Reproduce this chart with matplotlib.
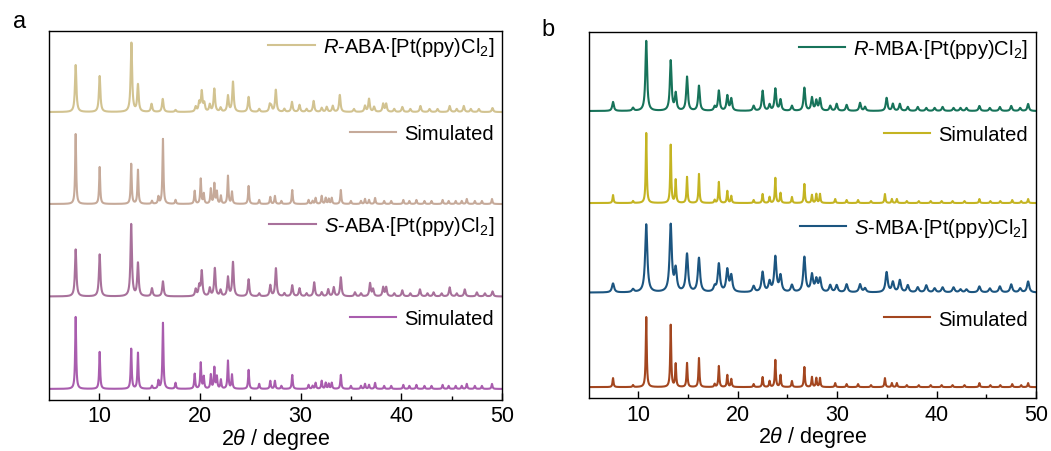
import numpy as np
import matplotlib
matplotlib.use("Agg")
import matplotlib.pyplot as plt
from matplotlib.legend import Legend

plt.rcParams["font.family"] = ["Liberation Sans", "DejaVu Sans"]
plt.rcParams["mathtext.fontset"] = "custom"
plt.rcParams["mathtext.rm"] = "Liberation Sans"
plt.rcParams["mathtext.it"] = "Liberation Sans:italic"

# ---- peak lists (2theta, relative intensity) ----
r_aba_pos = [7.69, 10.07, 13.22, 13.87, 15.22, 16.33, 17.6, 19.6, 19.95, 20.2, 20.45, 21.0, 21.45,
             22.07, 22.8, 23.3, 24.85, 25.9, 26.95, 27.1, 27.55, 28.4, 29.15, 29.9, 30.6, 31.3,
             32.1, 32.6, 33.2, 33.9, 35.3, 36.4, 36.8, 37.3, 38.2, 38.5, 39.3, 40.1, 40.9, 41.9,
             42.8, 43.6, 44.8, 45.5, 46.2, 46.9, 47.7, 49.05]
r_aba_int = [47, 36, 69, 27, 8, 13, 2, 5, 9, 20, 8, 7, 23,
             4, 16, 30, 15, 3, 7, 5, 22, 3, 10, 7, 3, 11,
             4, 5, 6, 17, 3, 6, 13, 5, 8, 8, 3, 5, 3, 6,
             3, 3, 6, 3, 6, 3, 3, 4]

sim_r_aba_pos = [7.69, 10.07, 13.2, 13.87, 15.26, 15.9, 16.35, 17.6, 19.5, 20.1, 20.4, 21.1, 21.45,
                 21.7, 22.1, 22.8, 23.2, 24.85, 25.9, 27.0, 27.46, 28.1, 29.18, 30.8, 31.2, 31.5,
                 32.1, 32.5, 32.8, 33.1, 34.0, 35.0, 36.0, 36.4, 36.8, 37.4, 38.3, 39.0, 40.2, 40.8,
                 41.5, 42.3, 43.0, 44.1, 44.7, 45.4, 46.0, 46.5, 47.3, 48.0, 49.0]
sim_r_aba_int = [70, 37, 40, 34, 3, 7, 65, 4, 13, 25, 10, 15, 20,
                 12, 8, 28, 12, 18, 4, 7, 8, 3, 14, 4, 3, 6,
                 8, 6, 5, 6, 14, 3, 3, 5, 4, 6, 3, 3, 4, 3,
                 4, 3, 3, 4, 3, 3, 3, 5, 3, 3, 5]

s_aba_pos = [7.69, 10.07, 13.2, 13.87, 15.26, 16.35, 19.6, 19.95, 20.2, 21.0, 21.5, 22.07, 22.8,
             23.3, 24.85, 25.9, 27.0, 27.56, 28.4, 29.18, 29.9, 30.6, 31.36, 32.1, 32.75, 33.3,
             34.0, 35.4, 36.0, 36.9, 37.2, 38.2, 38.5, 39.3, 40.1, 40.9, 41.85, 42.6, 43.2, 44.0,
             44.8, 45.5, 46.3, 47.5, 48.3, 49.05]
s_aba_int = [47, 42, 72, 33, 8, 15, 7, 10, 25, 8, 28, 6, 19,
             34, 17, 3, 11, 28, 3, 11, 8, 3, 14, 4, 7, 9,
             19, 4, 3, 13, 7, 9, 9, 3, 6, 3, 7, 3, 4, 3,
             9, 3, 7, 4, 3, 5]

sim_s_aba_pos = sim_r_aba_pos
sim_s_aba_int = [72, 37, 40, 36, 3, 8, 66, 6, 15, 26, 12, 14, 21,
                 12, 9, 28, 14, 19, 5, 8, 8, 3, 14, 4, 3, 6,
                 8, 6, 5, 6, 14, 3, 3, 5, 4, 6, 3, 3, 4, 3,
                 4, 3, 3, 4, 3, 3, 3, 5, 3, 3, 5]

r_mba_pos = [7.46, 9.47, 10.8, 13.26, 13.76, 14.9, 16.1, 17.68, 18.1, 18.95, 19.35, 21.6, 22.5,
             23.2, 23.78, 24.3, 25.45, 26.7, 27.46, 27.9, 28.27, 29.3, 29.95, 30.95, 32.3, 32.8,
             34.97, 35.6, 36.3, 37.1, 38.1, 38.96, 39.8, 40.6, 41.7, 42.4, 43.0, 44.3, 45.35,
             46.36, 47.5, 48.4, 49.2]
r_mba_int = [9, 3, 70, 50, 17, 34, 25, 4, 20, 15, 12, 5, 20,
             6, 22, 11, 5, 23, 13, 10, 12, 5, 7, 6, 8, 4,
             13, 7, 7, 4, 4, 3, 3, 4, 3, 3, 3, 5, 3,
             4, 5, 3, 7]

sim_r_mba_pos = [7.46, 9.47, 10.8, 13.26, 13.76, 14.9, 16.1, 17.68, 18.1, 18.95, 19.35, 21.6, 22.5,
                 23.2, 23.78, 24.3, 25.45, 26.7, 27.46, 27.9, 28.27, 29.8, 30.95, 32.1, 33.4,
                 34.8, 35.5, 36.0, 37.0, 38.2, 39.4, 40.5, 41.6, 42.8, 44.3, 45.4, 46.4, 47.6,
                 48.5, 49.2]
sim_r_mba_int = [8, 2, 70, 58, 23, 26, 29, 3, 21, 12, 7, 3, 9,
                 6, 25, 10, 6, 19, 8, 9, 9, 4, 3, 3, 2,
                 9, 4, 4, 2, 2, 2, 2, 2, 2, 4, 2, 2, 3,
                 2, 4]

s_mba_pos = r_mba_pos
s_mba_int = [9, 3, 68, 67, 22, 38, 34, 5, 28, 22, 16, 6, 20,
             10, 35, 16, 7, 35, 17, 12, 13, 7, 7, 8, 8, 4,
             20, 10, 12, 7, 5, 7, 4, 5, 5, 3, 3, 6, 4,
             6, 8, 4, 11]

sim_s_mba_pos = sim_r_mba_pos
sim_s_mba_int = [9, 2, 70, 62, 23, 24, 29, 3, 21, 12, 8, 3, 10,
                 6, 27, 12, 6, 20, 10, 9, 9, 4, 3, 3, 2,
                 9, 4, 4, 2, 2, 2, 2, 2, 2, 4, 2, 2, 3,
                 2, 4]

labels_a = [r"$\it{R}$-ABA$\cdot$[Pt(ppy)Cl$_2$]", "Simulated",
            r"$\it{S}$-ABA$\cdot$[Pt(ppy)Cl$_2$]", "Simulated"]
labels_b = [r"$\it{R}$-MBA$\cdot$[Pt(ppy)Cl$_2$]", "Simulated",
            r"$\it{S}$-MBA$\cdot$[Pt(ppy)Cl$_2$]", "Simulated"]

colors_a = ["#d2c391", "#c6aa9a", "#a8719b", "#a95dae"]
colors_b = ["#17735a", "#c4b422", "#1c5580", "#a3461f"]


def profile(tt, pos, inten, fwhm):
    y = np.zeros_like(tt)
    for p, h in zip(pos, inten):
        y += h / (1 + ((tt - p) / (fwhm / 2)) ** 2)
    return y


tt = np.arange(5, 50.001, 0.01)

fig = plt.figure(figsize=(10.51, 4.52), dpi=100)
ax_a = fig.add_axes([0.0462, 0.113, 0.4315, 0.816])
ax_b = fig.add_axes([0.560, 0.117, 0.4258, 0.810])

panel_a = [(r_aba_pos, r_aba_int, 0.17, 288),
           (sim_r_aba_pos, sim_r_aba_int, 0.12, 196),
           (s_aba_pos, s_aba_int, 0.17, 103.5),
           (sim_s_aba_pos, sim_s_aba_int, 0.12, 11)]
panel_b = [(r_mba_pos, r_mba_int, 0.2, 287),
           (sim_r_mba_pos, sim_r_mba_int, 0.12, 195),
           (s_mba_pos, s_mba_int, 0.26, 105.5),
           (sim_s_mba_pos, sim_s_mba_int, 0.12, 11)]
leg_y_a = [0.957, 0.721, 0.474, 0.22]
leg_y_b = [0.954, 0.721, 0.467, 0.216]

for ax, traces, labels, colors, leg_y, ytop in [
        (ax_a, panel_a, labels_a, colors_a, leg_y_a, 369),
        (ax_b, panel_b, labels_b, colors_b, leg_y_b, 366)]:
    for (pos, inten, w, off), lab, c, ly in zip(traces, labels, colors, leg_y):
        line, = ax.plot(tt, profile(tt, pos, inten, w) + off, color=c, lw=1.5, label=lab)
        leg = Legend(ax, [line], [lab], loc="center right", bbox_to_anchor=(1.0, ly),
                     frameon=False, fontsize=14.5, handlelength=2.3, handletextpad=0.4,
                     borderaxespad=0.0, borderpad=0.4)
        ax.add_artist(leg)
    ax.set_xlim(5, 50)
    ax.set_ylim(0, ytop)
    ax.set_yticks([])
    ax.set_xticks([10, 20, 30, 40, 50])
    ax.set_xticks([15, 25, 35, 45], minor=True)
    ax.tick_params(axis="x", which="major", direction="in", length=5, width=1.0,
                   labelsize=15.5, pad=4)
    ax.tick_params(axis="x", which="minor", direction="in", length=3, width=1.0)
    for sp in ax.spines.values():
        sp.set_linewidth(1.0)
    ax.set_xlabel(r"2$\it{\theta}$ / degree", fontsize=15.5)
    ax.xaxis.set_label_coords(0.5, -0.072)

fig.text(0.012, 0.951, "a", fontsize=17, va="center")
fig.text(0.515, 0.934, "b", fontsize=17, va="center")

fig.savefig("out.png", dpi=100)
